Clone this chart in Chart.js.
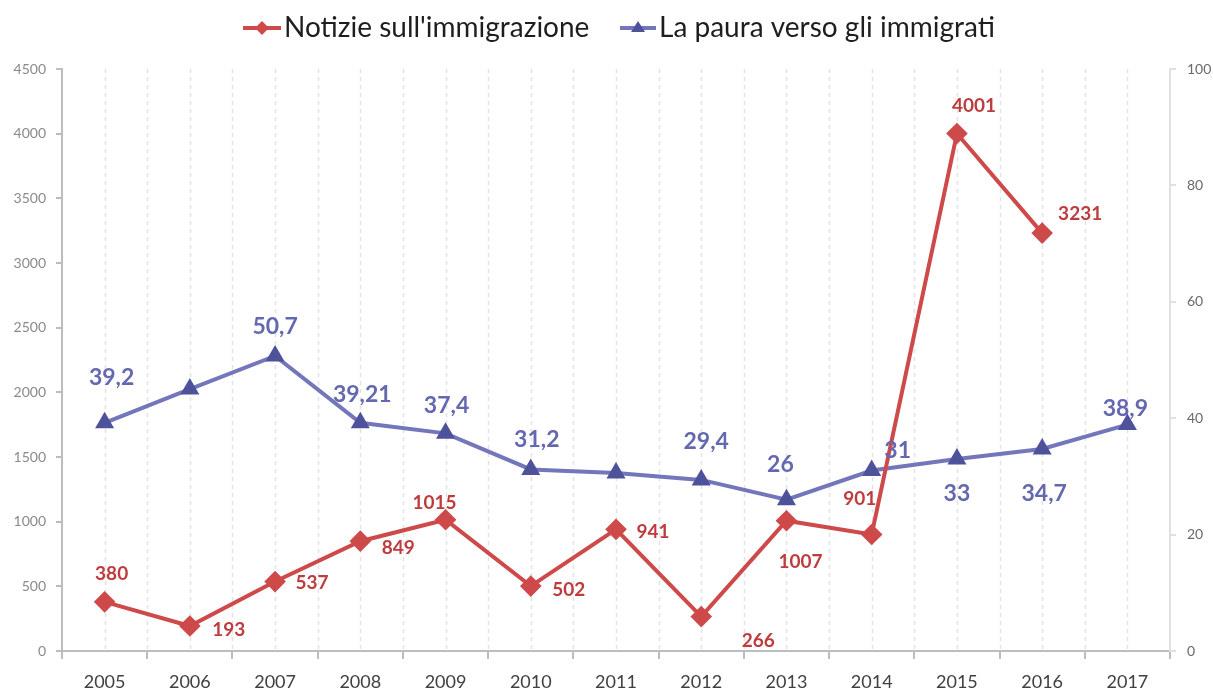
<!DOCTYPE html>
<html>
<head>
<meta charset="utf-8">
<script src="https://cdn.jsdelivr.net/npm/chart.js@4"></script>
<style>
html,body{margin:0;padding:0;background:#fff;}
#wrap{width:1213px;height:691px;}
</style>
</head>
<body>
<div id="wrap"><canvas id="c" width="1213" height="691"></canvas></div>
<script>
// ---- data ----
const years = ['2005','2006','2007','2008','2009','2010','2011','2012','2013','2014','2015','2016','2017'];
const notizie = [380,193,537,849,1015,502,941,266,1007,901,4001,3231,null];
const paura = [39.2,45,50.7,39.21,37.4,31.2,30.6,29.4,26,31,33,34.7,38.9];
const notizieLabels = ['380','193','537','849','1015','502','941','266','1007','901','4001','3231',''];
const pauraLabels = ['39,2','','50,7','39,21','37,4','31,2','','29,4','26','31','33','34,7','38,9'];
const seriesNames = ["Notizie sull'immigrazione","La paura verso gli immigrati"];

// ---- styles ----
const RED = 'rgb(206,74,74)', RED_TXT = 'rgb(190,60,62)';
const BLUE = 'rgb(115,118,186)', BLUE_MK = 'rgb(78,82,155)', BLUE_TXT = 'rgb(100,104,176)';
const redOff = [[7,-28],[39,4],[37,1],[38,7],[-11,-17],[38,4],[37,3],[57,24],[14,41],[-12,-36],[17,-28],[38,-19],[0,0]];
const blueOff = [[7,-45],[0,0],[0,-29],[2,-28],[1,-28],[6,-30],[0,0],[5,-38],[-6,-35],[26,-20],[0,35],[2,45],[-2,-16]];

const gridPlugin = {
  id:'vgrid',
  beforeDatasetsDraw(chart){
    const {ctx, chartArea:a, scales:{x}} = chart;
    const half = (x.getPixelForValue(1)-x.getPixelForValue(0))/2;
    ctx.save();
    ctx.strokeStyle='#e2e2e2'; ctx.lineWidth=1.5; ctx.setLineDash([4,4]);
    for(let i=0;i<years.length;i++){
      const cx = x.getPixelForValue(i);
      [cx, cx+half].forEach(px=>{
        if(px < a.right-2 && px > a.left+2){
          ctx.beginPath(); ctx.moveTo(Math.round(px)+0.5,a.top); ctx.lineTo(Math.round(px)+0.5,a.bottom); ctx.stroke();
        }
      });
    }
    ctx.restore();
  }
};

const labelPlugin = {
  id:'vlabels',
  afterDatasetsDraw(chart){
    const ctx = chart.ctx;
    ctx.save();
    ctx.textAlign='center'; ctx.textBaseline='middle';
    const m0 = chart.getDatasetMeta(0), m1 = chart.getDatasetMeta(1);
    ctx.font='bold 19px Lato'; ctx.fillStyle=RED_TXT;
    m0.data.forEach((p,i)=>{ if(notizieLabels[i]) ctx.fillText(notizieLabels[i], p.x+redOff[i][0], p.y+redOff[i][1]); });
    ctx.font='bold 23px Lato'; ctx.fillStyle=BLUE_TXT;
    m1.data.forEach((p,i)=>{ if(pauraLabels[i]) ctx.fillText(pauraLabels[i], p.x+blueOff[i][0], p.y+blueOff[i][1]); });
    ctx.restore();
  }
};

const legendPlugin = {
  id:'mylegend',
  afterDraw(chart){
    const ctx = chart.ctx;
    ctx.save();
    ctx.textBaseline='middle'; ctx.textAlign='left';
    const y = 28;
    ctx.font='28px Lato';
    // item 1
    ctx.strokeStyle=RED; ctx.lineWidth=4;
    ctx.beginPath(); ctx.moveTo(243,y); ctx.lineTo(281,y); ctx.stroke();
    ctx.fillStyle=RED;
    ctx.beginPath(); ctx.moveTo(262,y-7); ctx.lineTo(269,y); ctx.lineTo(262,y+7); ctx.lineTo(255,y); ctx.closePath(); ctx.fill();
    ctx.fillStyle='#1e1e1e';
    ctx.fillText(seriesNames[0], 284, y);
    // item 2
    ctx.strokeStyle=BLUE; ctx.lineWidth=4;
    ctx.beginPath(); ctx.moveTo(620,y); ctx.lineTo(656,y); ctx.stroke();
    ctx.fillStyle=BLUE_MK;
    ctx.beginPath(); ctx.moveTo(638,y-7); ctx.lineTo(645,y+4); ctx.lineTo(631,y+4); ctx.closePath(); ctx.fill();
    ctx.fillStyle='#1e1e1e';
    ctx.fillText(seriesNames[1], 659, y);
    ctx.restore();
  }
};

new Chart(document.getElementById('c'), {
  type:'line',
  data:{
    labels: years,
    datasets:[
      {label:seriesNames[0], data:notizie, yAxisID:'y', borderColor:RED, backgroundColor:RED,
       borderWidth:4, pointStyle:'rectRot', pointRadius:8, pointBackgroundColor:RED, pointBorderColor:RED,
       tension:0, spanGaps:false},
      {label:seriesNames[1], data:paura, yAxisID:'y1', borderColor:BLUE, backgroundColor:BLUE_MK,
       borderWidth:4, pointStyle:'triangle', pointRadius:7, pointBackgroundColor:BLUE_MK, pointBorderColor:BLUE_MK,
       tension:0}
    ]
  },
  options:{
    responsive:false, animation:false, devicePixelRatio:1,
    layout:{padding:{top:69,left:0,right:0,bottom:0}},
    plugins:{legend:{display:false}, tooltip:{enabled:false}},
    scales:{
      x:{type:'category', offset:true,
         grid:{display:true, offset:true, drawOnChartArea:false, tickLength:8, color:'#bdbdbd', lineWidth:2},
         border:{display:true, color:'#bdbdbd', width:2},
         ticks:{font:{family:'Lato', size:18}, color:'#404040', padding:12, maxRotation:0},
         afterFit(s){ s.height=40; }},
      y:{position:'left', min:0, max:4500,
         ticks:{stepSize:500, font:{family:'Lato', size:14}, color:'#8a8a8a', padding:10, callback:v=>String(v)},
         grid:{drawOnChartArea:false, tickLength:6, color:'#bdbdbd', lineWidth:2},
         border:{display:true, color:'#bdbdbd', width:2},
         afterFit(s){ s.width=62; }},
      y1:{position:'right', min:0, max:100,
         ticks:{stepSize:20, font:{family:'Lato', size:14}, color:'#6a6a6a', padding:11, callback:v=>String(v)},
         grid:{drawOnChartArea:false, tickLength:6, color:'#e0e0e0', lineWidth:2},
         border:{display:true, color:'#e0e0e0', width:2},
         afterFit(s){ s.width=43; }}
    }
  },
  plugins:[gridPlugin, labelPlugin, legendPlugin]
});
</script>
</body>
</html>
